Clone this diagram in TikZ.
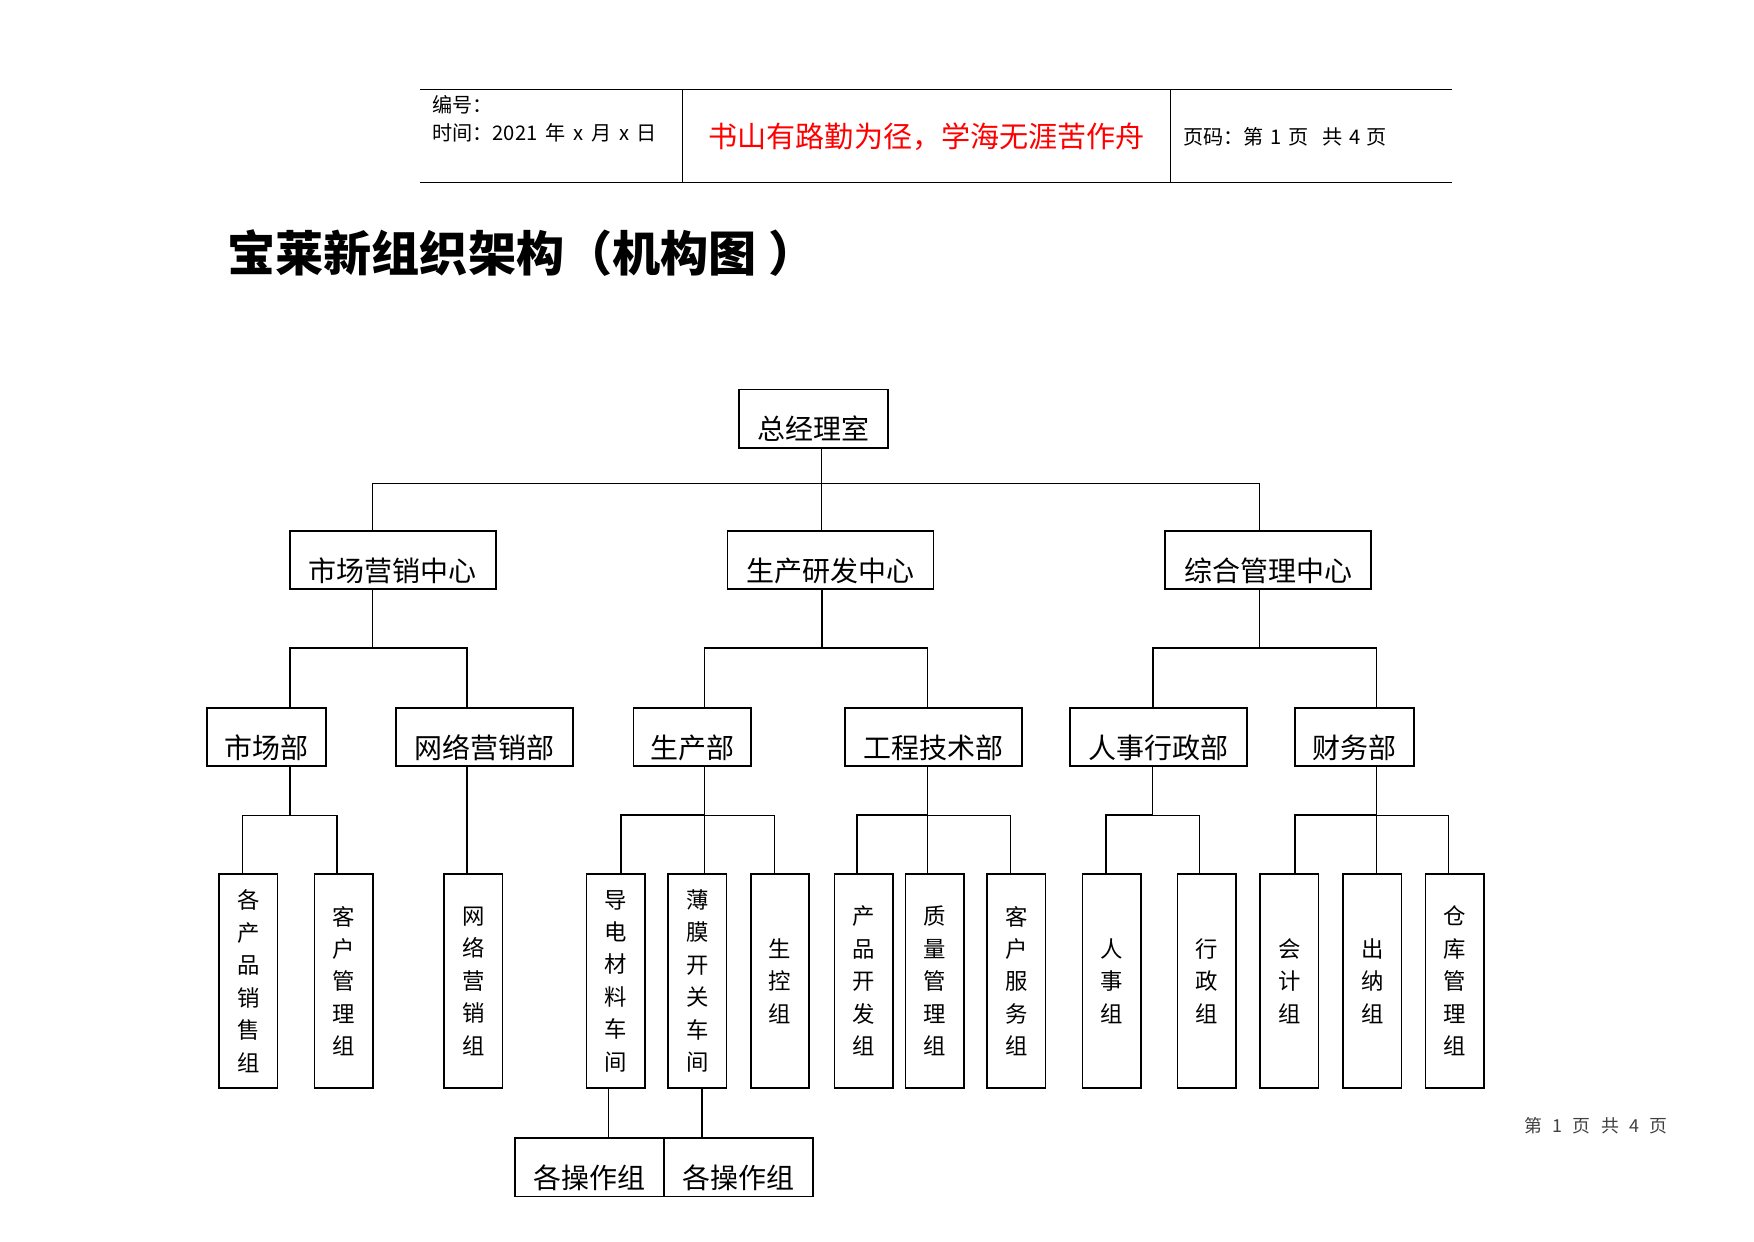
\documentclass[tikz,border=0pt]{standalone}
\usepackage{fontspec}
\setmainfont{Noto Sans CJK SC}
\usepackage{tikz}

\begin{document}
\begin{tikzpicture}[x=1pt,y=-1pt,
  box/.style={draw,line width=1.6pt,inner sep=0pt,minimum height=52pt,text height=45pt,text depth=7pt,font=\fontsize{25}{30}\selectfont},
  vbox/.style={draw,line width=1.6pt,inner sep=0pt,minimum width=52pt,minimum height=191pt,align=center,font=\fontsize{20}{29}\selectfont},
  thn/.style={line width=0.9pt},thk/.style={line width=1.8pt}]
  \useasboundingbox (0,0) rectangle (1567,1109);
  % header
  \draw[thn] (375,80) -- (1297,80) (375,163) -- (1297,163) (610,80) -- (610,163) (1046,80) -- (1046,163);
  \node[anchor=west,inner sep=0pt,font=\fontsize{18}{20}\selectfont] (hbh) at (386,94) {编号：};
  \node[anchor=west,inner sep=0pt,font=\fontsize{18}{20}\selectfont] (hsj) at (386,119) {时间：2021\hspace{7pt}年\hspace{7pt}x\hspace{7pt}月\hspace{7pt}x\hspace{7pt}日};
  \node[inner sep=0pt,text=red,font=\fontsize{26}{28}\selectfont] (hmotto) at (828,122) {书山有路勤为径，学海无涯苦作舟};
  \node[anchor=west,inner sep=0pt,font=\fontsize{18}{20}\selectfont] (hym) at (1057,122) {页码：第\hspace{6pt}1\hspace{6pt}页\hspace{12pt}共\hspace{6pt}4\hspace{6pt}页};
  \node[anchor=west,inner sep=0pt,font=\fontsize{43}{46}\selectfont\bfseries] (ttl) at (203,226) {宝莱新组织架构（机构图\hspace{10pt}）};
  \node[anchor=east,inner sep=0pt,text=black!75,font=\fontsize{16}{18}\selectfont] (foot) at (1490,1006) {第\hspace{9pt}1\hspace{9pt}页\hspace{10pt}共\hspace{9pt}4\hspace{9pt}页};

  % boxes
  \node[box,minimum width=133pt] (zjl) at (726.5,374) {总经理室};
  \node[box,minimum width=184pt] (scyx) at (351,500.5) {市场营销中心};
  \node[box,minimum width=184pt] (scyf) at (742,500.5) {生产研发中心};
  \node[box,minimum width=184pt] (zhgl) at (1133,500.5) {综合管理中心};

  \node[box,minimum width=106pt] (scb) at (238,658.5) {市场部};
  \node[box,minimum width=158pt] (wlyx) at (433,658.5) {网络营销部};
  \node[box,minimum width=105pt] (scbu) at (618.5,658.5) {生产部};
  \node[box,minimum width=158pt] (gcjs) at (834,658.5) {工程技术部};
  \node[box,minimum width=158pt] (rsxz) at (1035,658.5) {人事行政部};
  \node[box,minimum width=106pt] (cwb) at (1210,658.5) {财务部};

  \node[vbox] (cpxs) at (222,876.5) {各\\产\\品\\销\\售\\组};
  \node[vbox] (khgl) at (307,876.5) {客\\户\\管\\理\\组};
  \node[vbox] (wlzu) at (423,876.5) {网\\络\\营\\销\\组};
  \node[vbox] (ddcl) at (550,876.5) {导\\电\\材\\料\\车\\间};
  \node[vbox] (bmkg) at (623,876.5) {薄\\膜\\开\\关\\车\\间};
  \node[vbox] (skz) at (697,876.5) {生\\控\\组};
  \node[vbox] (cpkf) at (771.5,876.5) {产\\品\\开\\发\\组};
  \node[vbox] (zlgl) at (835,876.5) {质\\量\\管\\理\\组};
  \node[vbox] (khfw) at (908,876.5) {客\\户\\服\\务\\组};
  \node[vbox] (rsz) at (993,876.5) {人\\事\\组};
  \node[vbox] (xzz) at (1078,876.5) {行\\政\\组};
  \node[vbox] (kjz) at (1152,876.5) {会\\计\\组};
  \node[vbox] (cnz) at (1226,876.5) {出\\纳\\组};
  \node[vbox] (ckgl) at (1299.5,876.5) {仓\\库\\管\\理\\组};

  \node[box,minimum width=133pt] (czA) at (526.5,1043) {各操作组};
  \node[box,minimum width=133pt] (czB) at (659.5,1043) {各操作组};

  % top level
  \draw[thn] (zjl.south -| 734,0) -- (scyf.north -| 734,0);
  \draw[thn] (scyx.north -| 333,0) -- ++(0,-42) -| (zhgl.north -| 1125,0);

  % centres -> departments
  \draw[thn] (scyx.south -| 333,0) -- ++(0,52) coordinate (b1);
  \draw[thk] (scb.north -| 259,0) |- (b1) -| (wlyx.north -| 417,0);
  \draw[thk] (scyf.south -| 734,0) -- ++(0,52) coordinate (b2);
  \draw[thk] (b2 -| 629,0) -- (b2 -| 829,0);
  \draw[thn] (b2 -| 629,0) -- (scbu.north -| 629,0);
  \draw[thn] (b2 -| 829,0) -- (gcjs.north -| 829,0);
  \draw[thn] (zhgl.south -| 1125,0) -- ++(0,52) coordinate (b3);
  \draw[thk] (rsxz.north -| 1030,0) |- (b3) -- (b3 -| 1230,0);
  \draw[thn] (b3 -| 1230,0) -- (cwb.north -| 1230,0);

  % departments -> groups
  \draw[thk] (scb.south -| 259,0) -- ++(0,43) coordinate (c1);
  \draw[thn] (cpxs.north -| 217,0) |- (c1) -- (c1 -| 301,0);
  \draw[thk] (c1 -| 301,0) -- (khgl.north -| 301,0);
  \draw[thk] (wlyx.south -| 417,0) -- (wlzu.north -| 417,0);
  \draw[thn] (scbu.south -| 629,0) -- (bmkg.north -| 629,0);
  \path (scbu.south -| 629,0) ++(0,43) coordinate (c3);
  \draw[thk] (ddcl.north -| 555,0) |- (c3);
  \draw[thn] (c3) -| (skz.north -| 692,0);
  \draw[thn] (gcjs.south -| 829,0) -- (zlgl.north -| 829,0);
  \path (gcjs.south -| 829,0) ++(0,43) coordinate (c4);
  \draw[thk] (cpkf.north -| 766,0) |- (c4);
  \draw[thn] (c4) -| (khfw.north -| 903,0);
  \draw[thn] (rsxz.south -| 1030,0) -- ++(0,43) coordinate (c5);
  \draw[thk] (rsz.north -| 988,0) |- (c5);
  \draw[thn] (c5) -| (xzz.north -| 1072,0);
  \draw[thn] (cwb.south -| 1230,0) -- (cnz.north -| 1230,0);
  \path (cwb.south -| 1230,0) ++(0,43) coordinate (c6);
  \draw[thk] (kjz.north -| 1157,0) |- (c6);
  \draw[thn] (c6) -| (ckgl.north -| 1294,0);

  % workshops -> teams
  \draw[thn] (ddcl.south -| 544,0) -- (czA.north -| 544,0);
  \draw[thk] (bmkg.south -| 627,0) -- (czB.north -| 627,0);
\end{tikzpicture}
\end{document}
